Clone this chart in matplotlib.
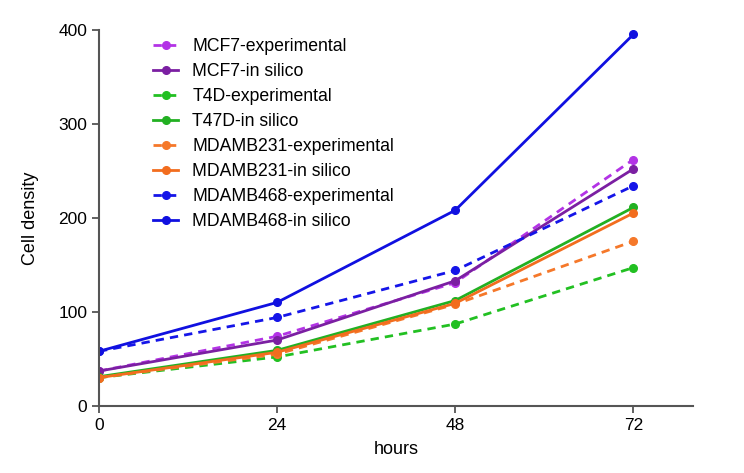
import numpy as np
import matplotlib.pyplot as plt

plt.rcParams['font.family'] = ['Liberation Sans', 'DejaVu Sans']

hours = [0, 24, 48, 72]
labels = ['MCF7-experimental', 'MCF7-in silico', 'T4D-experimental', 'T47D-in silico',
          'MDAMB231-experimental', 'MDAMB231-in silico', 'MDAMB468-experimental', 'MDAMB468-in silico']
mcf7_exp = [37, 74, 131, 262]
mcf7_sil = [37, 70, 133, 252]
t4d_exp = [30, 52, 87, 147]
t47d_sil = [31, 59, 112, 211]
mda231_exp = [30, 55, 108, 175]
mda231_sil = [30, 57, 109, 205]
mda468_exp = [58, 94, 144, 234]
mda468_sil = [58, 110, 208, 395]
series = [mcf7_exp, mcf7_sil, t4d_exp, t47d_sil, mda231_exp, mda231_sil, mda468_exp, mda468_sil]
colors = ['#b333e6', '#7b1fa2', '#22c022', '#22b022', '#f5782a', '#f26d1e', '#1515e8', '#1010e0']
styles = ['--', '-', '--', '-', '--', '-', '--', '-']

fig = plt.figure(figsize=(7.44, 4.73), dpi=100)
ax = fig.add_axes([0.133, 0.142, 0.798, 0.795])
for y, c, ls, lab in zip(series, colors, styles, labels):
    ax.plot(hours, y, ls, color=c, lw=2, marker='o', ms=5.5, label=lab,
            dashes=(3, 2.2) if ls == '--' else (None, None))

ax.set_xlim(0, 80)
ax.set_ylim(0, 400)
ax.set_xticks(hours)
ax.set_yticks([0, 100, 200, 300, 400])
ax.spines['right'].set_color('none')
ax.spines['top'].set_color('none')
for s in ['left', 'bottom']:
    ax.spines[s].set_color('#555555')
    ax.spines[s].set_linewidth(1.5)
ax.tick_params(direction='out', length=5, width=1.3, color='#555555', labelsize=12.5)
ax.set_xlabel('hours', fontsize=13, labelpad=6)
ax.set_ylabel('Cell density', fontsize=13, labelpad=14)
ax.legend(loc='upper left', bbox_to_anchor=(0.065, 1.02), frameon=False, fontsize=12.7,
          handlelength=1.4, labelspacing=0.45, handletextpad=0.8)
fig.savefig('out.png')
